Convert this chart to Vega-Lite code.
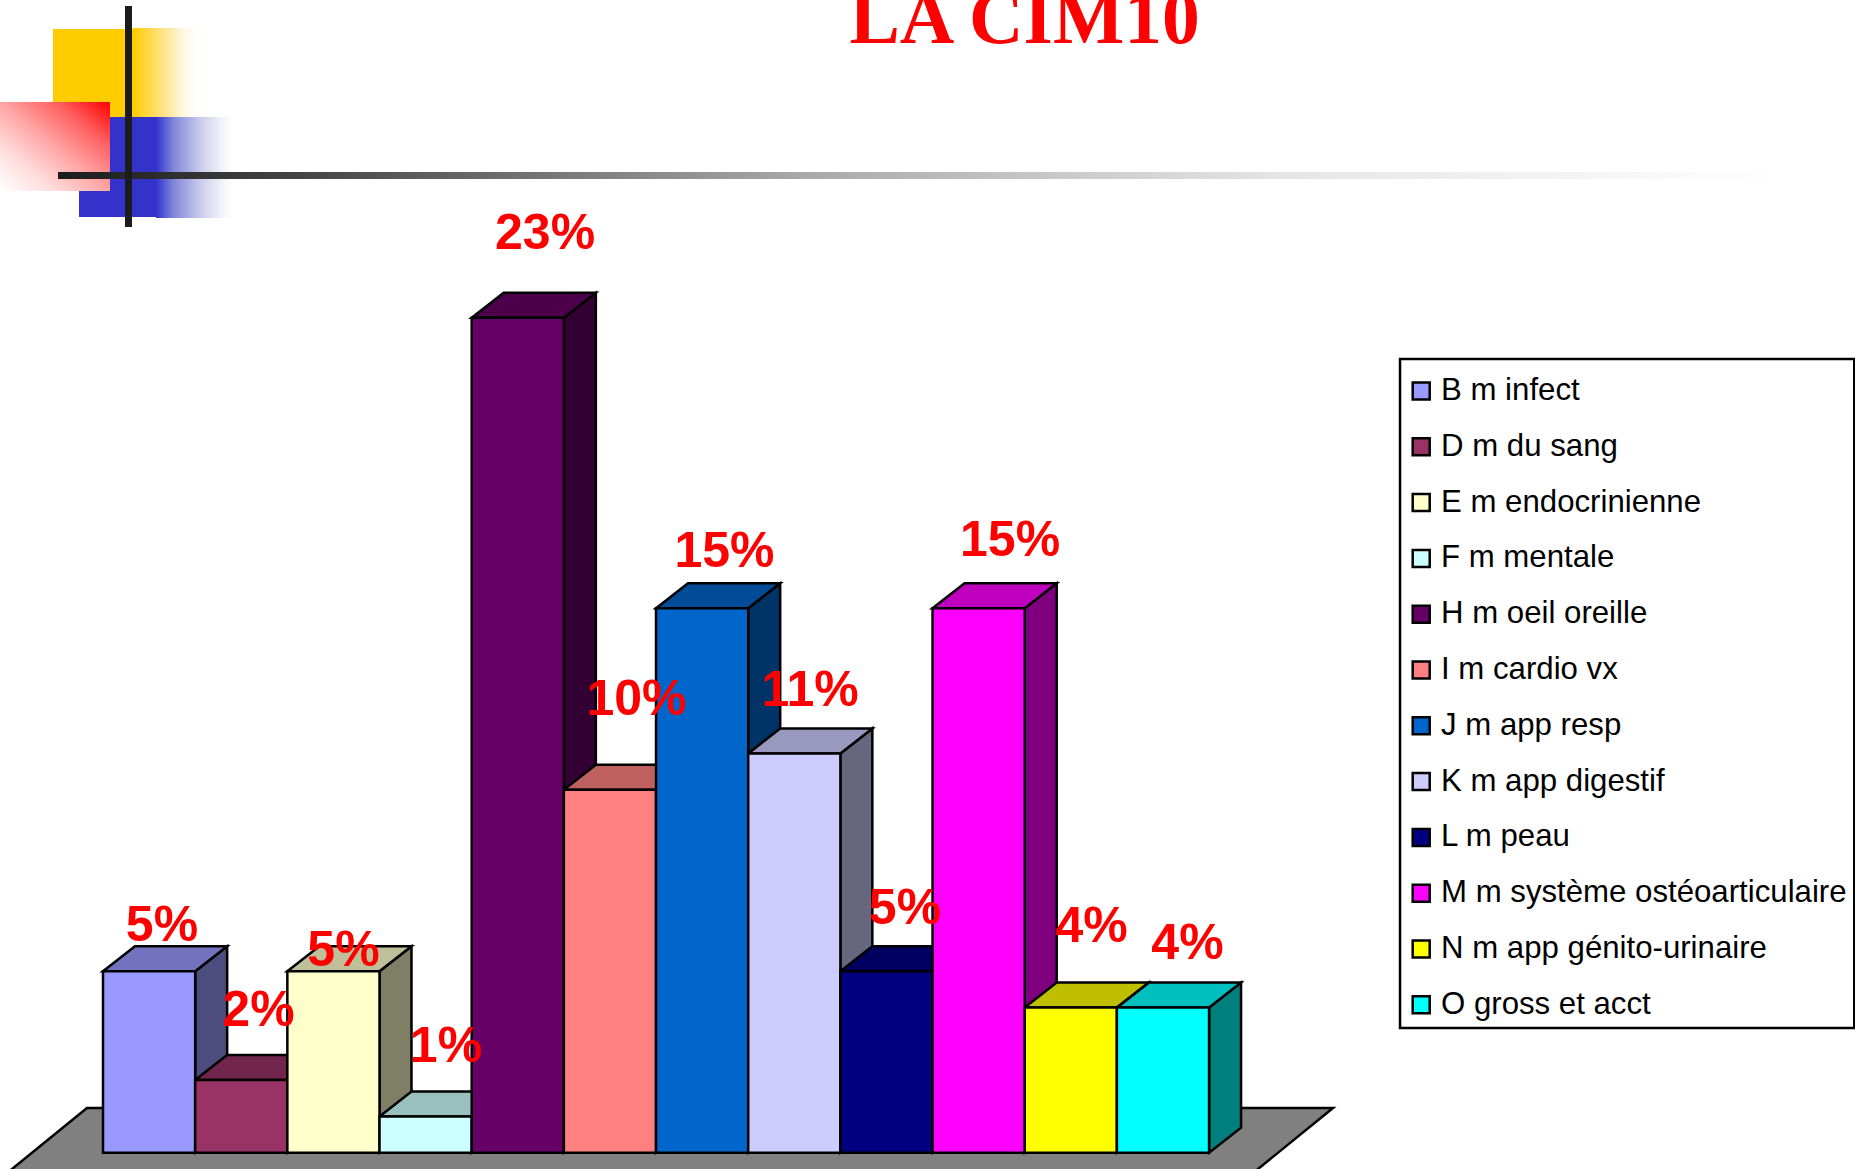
{"$schema":"https://vega.github.io/schema/vega-lite/v6.json","width":1855,"height":1169,"padding":0,"autosize":{"type":"none"},"background":"white","view":{"stroke":null},
"datasets":{"rows":[
{"category":"B m infect","idx":0,"value":5},{"category":"D m du sang","idx":1,"value":2},{"category":"E m endocrinienne","idx":2,"value":5},{"category":"F m mentale","idx":3,"value":1},{"category":"H m oeil oreille","idx":4,"value":23},{"category":"I m cardio vx","idx":5,"value":10},{"category":"J m app resp","idx":6,"value":15},{"category":"K m app digestif","idx":7,"value":11},{"category":"L m peau","idx":8,"value":5},{"category":"M m système ostéoarticulaire","idx":9,"value":15},{"category":"N m app génito-urinaire","idx":10,"value":4},{"category":"O gross et acct","idx":11,"value":4}]},
"layer":[
{"data":{"values":[{"shape":"floor"}]},"transform":[{"calculate":"[-1.06,-0.174,12.458,13.345]","as":"fx"},{"calculate":"[-0.6,-0.6,-0.6,1.231]","as":"lo"},{"calculate":"[-0.6,1.231,1.231,1.231]","as":"hi"},{"flatten":["fx","lo","hi"]}],
"mark":{"type":"area","fill":"#808080","stroke":"black","strokeWidth":2.5,"clip":true},
"encoding":{"x":{"field":"fx","type":"quantitative","axis":null,"scale":{"domain":[-1.1175,19.008],"nice":false,"zero":false}},"y":{"field":"hi","type":"quantitative","stack":null,"axis":null,"scale":{"domain":[-0.449,31.755],"nice":false,"zero":false}},"y2":{"field":"lo"}}},
{"data":{"name":"rows"},"transform":[{"calculate":"[1,1.347]","as":"fx"},{"calculate":"[0,0.689]","as":"d"},{"flatten":["fx","d"]},{"calculate":"datum.idx+datum.fx","as":"sx"},{"calculate":"datum.d","as":"lo"},{"calculate":"datum.value+datum.d","as":"hi"}],
"layer":[
{"mark":{"type":"area"},"encoding":{"x":{"field":"sx","type":"quantitative","axis":null,"scale":{"domain":[-1.1175,19.008],"nice":false,"zero":false}},"y":{"field":"hi","type":"quantitative","stack":null,"axis":null,"scale":{"domain":[-0.449,31.755],"nice":false,"zero":false}},"y2":{"field":"lo"},"color":{"field":"category","type":"nominal","legend":{"title":null,"orient":"none","legendX":1405.6,"legendY":375.4,"padding":0,"symbolType":"square","symbolSize":289,"symbolStrokeColor":"black","symbolStrokeWidth":2.5,"symbolOpacity":1,"labelFont":"Liberation Sans","labelFontSize":31.2,"labelColor":"black","labelLimit":600,"labelOffset":4.2,"rowPadding":23.8},"scale":{"domain":["B m infect","D m du sang","E m endocrinienne","F m mentale","H m oeil oreille","I m cardio vx","J m app resp","K m app digestif","L m peau","M m système ostéoarticulaire","N m app génito-urinaire","O gross et acct"],"range":["#9999FF","#993366","#FFFFCC","#CCFFFF","#660066","#FF8080","#0066CC","#CCCCFF","#000080","#FF00FF","#FFFF00","#00FFFF"]}}}},
{"mark":{"type":"area","fill":"black","fillOpacity":0.5,"stroke":"black","strokeWidth":2.5},"encoding":{"x":{"field":"sx","type":"quantitative","axis":null,"scale":{"domain":[-1.1175,19.008],"nice":false,"zero":false}},"y":{"field":"hi","type":"quantitative","stack":null,"axis":null,"scale":{"domain":[-0.449,31.755],"nice":false,"zero":false}},"y2":{"field":"lo"},"detail":{"field":"category"}}}]},
{"data":{"name":"rows"},"transform":[{"calculate":"[0,0.347,1,1.347]","as":"dx"},{"calculate":"[0,0,0,0.689]","as":"dl"},{"calculate":"[0,0.689,0.689,0.689]","as":"dh"},{"flatten":["dx","dl","dh"]},{"calculate":"datum.idx+datum.dx","as":"sx"},{"calculate":"datum.value+datum.dl","as":"lo"},{"calculate":"datum.value+datum.dh","as":"hi"}],
"layer":[
{"mark":{"type":"area"},"encoding":{"x":{"field":"sx","type":"quantitative","axis":null,"scale":{"domain":[-1.1175,19.008],"nice":false,"zero":false}},"y":{"field":"hi","type":"quantitative","stack":null,"axis":null,"scale":{"domain":[-0.449,31.755],"nice":false,"zero":false}},"y2":{"field":"lo"},"color":{"field":"category","type":"nominal"}}},
{"mark":{"type":"area","fill":"black","fillOpacity":0.25,"stroke":"black","strokeWidth":2.5},"encoding":{"x":{"field":"sx","type":"quantitative","axis":null,"scale":{"domain":[-1.1175,19.008],"nice":false,"zero":false}},"y":{"field":"hi","type":"quantitative","stack":null,"axis":null,"scale":{"domain":[-0.449,31.755],"nice":false,"zero":false}},"y2":{"field":"lo"},"detail":{"field":"category"}}}]},
{"data":{"name":"rows"},"transform":[{"calculate":"datum.idx+1","as":"idxEnd"}],
"mark":{"type":"rect","stroke":"black","strokeWidth":2.5},
"encoding":{"x":{"field":"idx","type":"quantitative","axis":null,"scale":{"domain":[-1.1175,19.008],"nice":false,"zero":false}},"x2":{"field":"idxEnd"},"y":{"field":"value","type":"quantitative","stack":null,"axis":null,"scale":{"domain":[-0.449,31.755],"nice":false,"zero":false}},"y2":{"datum":0},
"color":{"field":"category","type":"nominal"}}},
{"data":{"name":"rows"},"transform":[{"calculate":"[0.64,1.687,2.609,3.721,4.796,5.788,6.743,7.671,8.701,9.841,10.725,11.766][datum.idx]","as":"lx"},{"calculate":"[5.832,3.49,5.143,2.499,24.895,12.069,16.135,12.306,6.3,16.438,5.804,5.336][datum.idx]","as":"ly"},{"calculate":"datum.value+'%'","as":"label"}],
"mark":{"type":"text","font":"Liberation Sans","fontSize":50,"fontWeight":"bold","color":"#ff0000","align":"center","baseline":"alphabetic"},
"encoding":{"x":{"field":"lx","type":"quantitative","axis":null,"scale":{"domain":[-1.1175,19.008],"nice":false,"zero":false}},"y":{"field":"ly","type":"quantitative","axis":null,"scale":{"domain":[-0.449,31.755],"nice":false,"zero":false}},"text":{"field":"label"}}},
{"data":{"values":[{"shape":"legend box"}]},"mark":{"type":"rect","fill":"white","stroke":"black","strokeWidth":2.5},
"encoding":{"x":{"datum":14.072,"type":"quantitative","axis":null,"scale":{"domain":[-1.1175,19.008],"nice":false,"zero":false}},"x2":{"datum":19.0},"y":{"datum":21.865,"type":"quantitative","axis":null,"scale":{"domain":[-0.449,31.755],"nice":false,"zero":false}},"y2":{"datum":3.435}}},
{"data":{"values":[{"shape":"title"}]},"mark":{"type":"text","text":"LA CIM10","font":"Liberation Serif","fontSize":75.5,"fontWeight":"bold","color":"#ff0000","align":"center","baseline":"alphabetic"},
"encoding":{"x":{"datum":9.998,"type":"quantitative","axis":null,"scale":{"domain":[-1.1175,19.008],"nice":false,"zero":false}},"y":{"datum":30.57,"type":"quantitative","axis":null,"scale":{"domain":[-0.449,31.755],"nice":false,"zero":false}}}},
{"data":{"values":[{"shape":"logo"}]},"encoding":{"x":{"datum":-0.5425,"type":"quantitative","axis":null,"scale":{"domain":[-1.1175,19.008],"nice":false,"zero":false}},"x2":{"datum":0.3255},"y":{"datum":30.956,"type":"quantitative","axis":null,"scale":{"domain":[-0.449,31.755],"nice":false,"zero":false}},"y2":{"datum":28.532}},"mark":{"type":"rect","fill":"#FFCC00"}},
{"data":{"values":[{"shape":"logo"}]},"encoding":{"x":{"datum":0.3255,"type":"quantitative","axis":null,"scale":{"domain":[-1.1175,19.008],"nice":false,"zero":false}},"x2":{"datum":1.1067},"y":{"datum":30.983,"type":"quantitative","axis":null,"scale":{"domain":[-0.449,31.755],"nice":false,"zero":false}},"y2":{"datum":28.532}},"mark":{"type":"rect","fill":{"gradient":"linear","x1":0,"x2":1,"y1":0,"y2":0,"stops":[{"offset":0,"color":"#FFCC00"},{"offset":0.47,"color":"#FFE699"},{"offset":0.69,"color":"#FFF6E0"},{"offset":0.9,"color":"#FFFFFF"},{"offset":1,"color":"#FFFFFF"}]}}},
{"data":{"values":[{"shape":"logo"}]},"encoding":{"x":{"datum":-0.2604,"type":"quantitative","axis":null,"scale":{"domain":[-1.1175,19.008],"nice":false,"zero":false}},"x2":{"datum":0.575},"y":{"datum":28.532,"type":"quantitative","axis":null,"scale":{"domain":[-0.449,31.755],"nice":false,"zero":false}},"y2":{"datum":25.777}},"mark":{"type":"rect","fill":"#3333CC"}},
{"data":{"values":[{"shape":"logo"}]},"encoding":{"x":{"datum":0.575,"type":"quantitative","axis":null,"scale":{"domain":[-1.1175,19.008],"nice":false,"zero":false}},"x2":{"datum":1.4104},"y":{"datum":28.532,"type":"quantitative","axis":null,"scale":{"domain":[-0.449,31.755],"nice":false,"zero":false}},"y2":{"datum":25.749}},"mark":{"type":"rect","fill":{"gradient":"linear","x1":0,"x2":1,"y1":0,"y2":0,"stops":[{"offset":0,"color":"#3333CC"},{"offset":0.22,"color":"#7F85D9"},{"offset":0.59,"color":"#CDCDEB"},{"offset":0.82,"color":"#EEEEF8"},{"offset":1,"color":"#FFFFFF"}]}}},
{"data":{"values":[{"shape":"logo"}]},"encoding":{"x":{"datum":-1.1175,"type":"quantitative","axis":null,"scale":{"domain":[-1.1175,19.008],"nice":false,"zero":false}},"x2":{"datum":0.0759},"y":{"datum":28.945,"type":"quantitative","axis":null,"scale":{"domain":[-0.449,31.755],"nice":false,"zero":false}},"y2":{"datum":26.493}},"mark":{"type":"rect","fill":{"gradient":"linear","x1":1,"y1":0,"x2":0,"y2":1,"stops":[{"offset":0,"color":"#FF0000"},{"offset":0.25,"color":"#FF6060"},{"offset":0.5,"color":"#FFA5A5"},{"offset":0.75,"color":"#FFDDDD"},{"offset":1,"color":"#FFFFFF"}]}}},
{"data":{"values":[{"shape":"logo"}]},"encoding":{"x":{"datum":-0.4882,"type":"quantitative","axis":null,"scale":{"domain":[-1.1175,19.008],"nice":false,"zero":false}},"x2":{"datum":18.195},"y":{"datum":27.017,"type":"quantitative","axis":null,"scale":{"domain":[-0.449,31.755],"nice":false,"zero":false}},"y2":{"datum":26.824}},"mark":{"type":"rect","fill":{"gradient":"linear","x1":0,"x2":1,"y1":0,"y2":0,"stops":[{"offset":0,"color":"#1C1C1C"},{"offset":0.14,"color":"#444444"},{"offset":0.431,"color":"#A8A8A8"},{"offset":0.71,"color":"#E5E5E5"},{"offset":1,"color":"#FFFFFF"}]}}},
{"data":{"values":[{"shape":"logo"}]},"encoding":{"x":{"datum":0.2387,"type":"quantitative","axis":null,"scale":{"domain":[-1.1175,19.008],"nice":false,"zero":false}},"x2":{"datum":0.3146},"y":{"datum":31.59,"type":"quantitative","axis":null,"scale":{"domain":[-0.449,31.755],"nice":false,"zero":false}},"y2":{"datum":25.501}},"mark":{"type":"rect","fill":"#1C1C1C"}}
]}
